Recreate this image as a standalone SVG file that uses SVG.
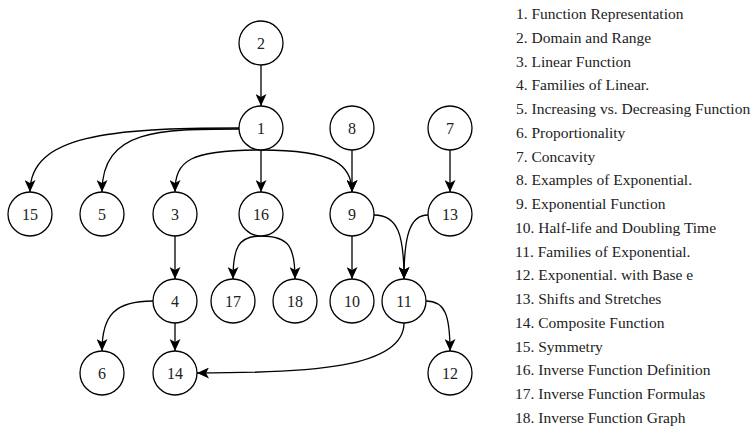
<svg xmlns="http://www.w3.org/2000/svg" width="755" height="438" viewBox="0 0 755 438">
<style>
.n circle{fill:#fff;stroke:#000;stroke-width:1.3}
.n text{font-family:"Liberation Serif","Times New Roman",serif;font-size:16px;fill:#222;text-anchor:middle}
.e path{fill:none;stroke:#000;stroke-width:1.3;marker-end:url(#arr)}
.lg text{font-family:"Liberation Serif","Times New Roman",serif;font-size:15.5px;fill:#222}
</style>
<defs>
<marker id="arr" markerUnits="userSpaceOnUse" markerWidth="12" markerHeight="11" viewBox="0 0 12 11" refX="12" refY="5.5" orient="auto">
<path d="M0,0 L12,5.5 L0,11 L3,5.5 z" fill="#000"/>
</marker>
</defs>
<rect width="755" height="438" fill="#fff"/>
<g id="edges" class="e">
<path d="M261,65 L261,106"/>
<path d="M239,128 C110,128 30,135 30,192"/>
<path d="M239,129 C160,129 102,129 102,192"/>
<path d="M261,150 C190,150 175,160 175,192"/>
<path d="M261,150 L261,192"/>
<path d="M261,150 C335,150 352,165 352,192"/>
<path d="M352,150 L352,192"/>
<path d="M450,150 L450,192"/>
<path d="M175,236 L175,279"/>
<path d="M261,236 C238,236 233,248 233,279"/>
<path d="M261,236 C290,236 295,248 295,279"/>
<path d="M352,236 L352,279"/>
<path d="M374,215 C398,215 404,235 404,279"/>
<path d="M428,215 C410,215 404,235 404,279"/>
<path d="M426,301 C445,301 450,315 450,351"/>
<path d="M153,301 C115,301 102,315 102,351"/>
<path d="M175,323 L175,351"/>
<path d="M404,323 C404,368 310,373 197,373"/>
</g>
<g id="n2" class="n"><circle cx="261" cy="43" r="22"/><text x="261" y="49">2</text></g>
<g id="n1" class="n"><circle cx="261" cy="128" r="22"/><text x="261" y="134">1</text></g>
<g id="n8" class="n"><circle cx="352" cy="128" r="22"/><text x="352" y="134">8</text></g>
<g id="n7" class="n"><circle cx="450" cy="128" r="22"/><text x="450" y="134">7</text></g>
<g id="n15" class="n"><circle cx="30" cy="214" r="22"/><text x="30" y="220">15</text></g>
<g id="n5" class="n"><circle cx="102" cy="214" r="22"/><text x="102" y="220">5</text></g>
<g id="n3" class="n"><circle cx="175" cy="214" r="22"/><text x="175" y="220">3</text></g>
<g id="n16" class="n"><circle cx="261" cy="214" r="22"/><text x="261" y="220">16</text></g>
<g id="n9" class="n"><circle cx="352" cy="214" r="22"/><text x="352" y="220">9</text></g>
<g id="n13" class="n"><circle cx="450" cy="214" r="22"/><text x="450" y="220">13</text></g>
<g id="n4" class="n"><circle cx="175" cy="301" r="22"/><text x="175" y="307">4</text></g>
<g id="n17" class="n"><circle cx="233" cy="301" r="22"/><text x="233" y="307">17</text></g>
<g id="n18" class="n"><circle cx="295" cy="301" r="22"/><text x="295" y="307">18</text></g>
<g id="n10" class="n"><circle cx="352" cy="301" r="22"/><text x="352" y="307">10</text></g>
<g id="n11" class="n"><circle cx="404" cy="301" r="22"/><text x="404" y="307">11</text></g>
<g id="n6" class="n"><circle cx="102" cy="373" r="22"/><text x="102" y="379">6</text></g>
<g id="n14" class="n"><circle cx="175" cy="373" r="22"/><text x="175" y="379">14</text></g>
<g id="n12" class="n"><circle cx="450" cy="373" r="22"/><text x="450" y="379">12</text></g>
<g id="legend" class="lg">
<text x="516" y="19">1. Function Representation</text>
<text x="516" y="42.75">2. Domain and Range</text>
<text x="516" y="66.5">3. Linear Function</text>
<text x="516" y="90.25">4. Families of Linear.</text>
<text x="516" y="114">5. Increasing vs. Decreasing Function</text>
<text x="516" y="137.75">6. Proportionality</text>
<text x="516" y="161.5">7. Concavity</text>
<text x="516" y="185.25">8. Examples of Exponential.</text>
<text x="516" y="209">9. Exponential Function</text>
<text x="515" y="232.75">10. Half-life and Doubling Time</text>
<text x="515" y="256.5">11. Families of Exponential.</text>
<text x="515" y="280.25">12. Exponential. with Base e</text>
<text x="515" y="304">13. Shifts and Stretches</text>
<text x="515" y="327.75">14. Composite Function</text>
<text x="515" y="351.5">15. Symmetry</text>
<text x="515" y="375.25">16. Inverse Function Definition</text>
<text x="515" y="399">17. Inverse Function Formulas</text>
<text x="515" y="422.75">18. Inverse Function Graph</text>
</g>
</svg>
